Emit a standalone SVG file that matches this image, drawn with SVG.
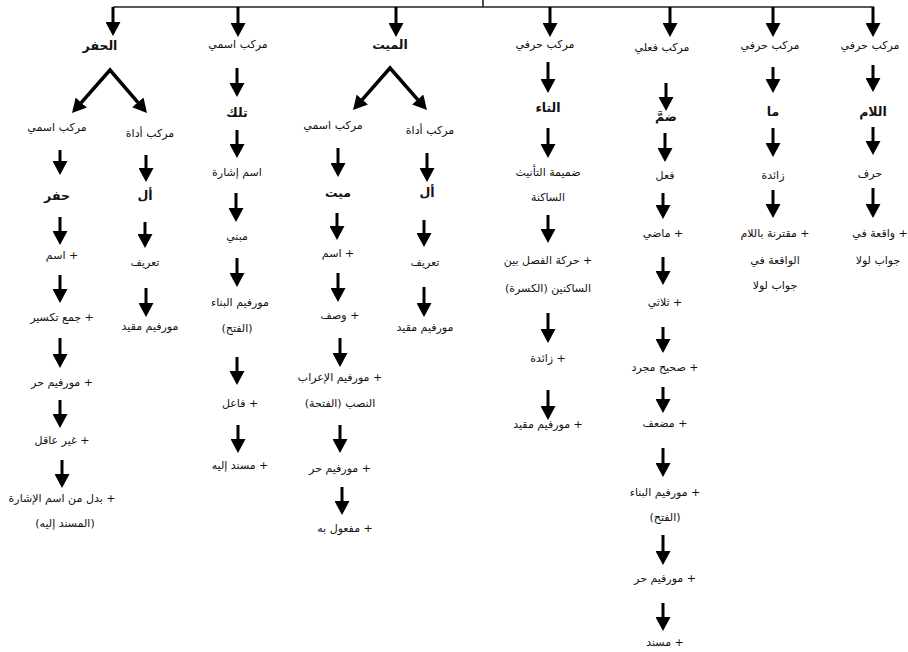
<svg xmlns="http://www.w3.org/2000/svg" width="908" height="652" viewBox="0 0 908 652">
<defs>
<marker id="ah" viewBox="0 0 14 15" refX="3" refY="7.5" markerWidth="14" markerHeight="15" markerUnits="userSpaceOnUse" orient="auto-start-reverse">
<path d="M0,0 L14,7.5 L0,15 z" fill="#000"/>
</marker>
<style>
text{font-family:"DejaVu Sans",sans-serif;font-size:11px;fill:#111;text-anchor:middle;direction:rtl;unicode-bidi:embed}
text.b{font-weight:bold;font-size:12.5px}
.ar{stroke:#000;stroke-width:3;fill:none;marker-end:url(#ah)}
.br{stroke:#000;stroke-width:3.5;fill:none;stroke-linejoin:miter;marker-start:url(#ah);marker-end:url(#ah)}
.tl{stroke:#222;stroke-width:1.6;fill:none}
</style>
</defs>
<rect width="908" height="652" fill="#fff"/>
<g id="connectors">
<path class="tl" d="M113,7 H874 M483,0 V7"/>
<path class="ar" d="M113,7 V25"/>
<path class="ar" d="M238,7 V26"/>
<path class="ar" d="M396,7 V26"/>
<path class="ar" d="M550,7 V26"/>
<path class="ar" d="M670,7 V26"/>
<path class="ar" d="M773,7 V26"/>
<path class="ar" d="M873,7 V26"/>
<path class="br" d="M79.3,104.8 L110,70 L139.8,104.7"/>
<path class="br" d="M360.3,101.8 L390,68 L419.7,101.8"/>
<path class="ar" d="M60,150 V164"/>
<path class="ar" d="M60,217 V234"/>
<path class="ar" d="M60,275 V292"/>
<path class="ar" d="M60,338 V357"/>
<path class="ar" d="M60,400 V417"/>
<path class="ar" d="M62,460 V477"/>
<path class="ar" d="M146,155 V171"/>
<path class="ar" d="M145,222 V237"/>
<path class="ar" d="M146,288 V306"/>
<path class="ar" d="M237,68 V86"/>
<path class="ar" d="M237,130 V147"/>
<path class="ar" d="M236,193 V211"/>
<path class="ar" d="M237,258 V276"/>
<path class="ar" d="M237,357 V374"/>
<path class="ar" d="M238,425 V442"/>
<path class="ar" d="M338,148 V166"/>
<path class="ar" d="M337,213 V229"/>
<path class="ar" d="M338,273 V291"/>
<path class="ar" d="M340,338 V356"/>
<path class="ar" d="M340,425 V442"/>
<path class="ar" d="M342,487 V504"/>
<path class="ar" d="M427,153 V171"/>
<path class="ar" d="M424,220 V236"/>
<path class="ar" d="M424,287 V306"/>
<path class="ar" d="M548,62 V82"/>
<path class="ar" d="M548,128 V147"/>
<path class="ar" d="M548,215 V232"/>
<path class="ar" d="M548,313 V332"/>
<path class="ar" d="M548,390 V409"/>
<path class="ar" d="M666,83 V100"/>
<path class="ar" d="M665,133 V151"/>
<path class="ar" d="M663,193 V208"/>
<path class="ar" d="M663,257 V274"/>
<path class="ar" d="M663,327 V342"/>
<path class="ar" d="M663,387 V402"/>
<path class="ar" d="M663,448 V466"/>
<path class="ar" d="M663,535 V554"/>
<path class="ar" d="M663,603 V620"/>
<path class="ar" d="M773,67 V82"/>
<path class="ar" d="M773,128 V146"/>
<path class="ar" d="M773,190 V207"/>
<path class="ar" d="M873,65 V81"/>
<path class="ar" d="M873,127 V144"/>
<path class="ar" d="M873,188 V207"/>
</g>
<g id="n-alhafr"><text class="b" x="100" y="50">الحفر</text></g>
<g id="n-c1-ism"><text x="57" y="131">مركب اسمي</text></g>
<g id="n-c1-adat"><text x="150" y="137">مركب أداة</text></g>
<g id="n-hafr"><text class="b" x="57" y="200">حفر</text></g>
<g id="n-c1-ism2"><text x="62" y="259">+ اسم</text></g>
<g id="n-c1-jam"><text x="62" y="321">+ جمع تكسير</text></g>
<g id="n-c1-hurr"><text x="62" y="386">+ مورفيم حر</text></g>
<g id="n-c1-ghayr"><text x="62" y="444">+ غير عاقل</text></g>
<g id="n-c1-badal"><text x="62" y="502">+ بدل من اسم الإشارة</text><text x="65" y="527">(المسند إليه)</text></g>
<g id="n-c1-al"><text class="b" x="145" y="200">أل</text></g>
<g id="n-c1-tarif"><text x="145" y="266">تعريف</text></g>
<g id="n-c1-muqayyad"><text x="150" y="330">مورفيم مقيد</text></g>
<g id="n-c2-ism"><text x="238" y="48">مركب اسمي</text></g>
<g id="n-tilka"><text class="b" x="237" y="117">تلك</text></g>
<g id="n-c2-ishara"><text x="237" y="176">اسم إشارة</text></g>
<g id="n-c2-mabni"><text x="237" y="240">مبني</text></g>
<g id="n-c2-bina"><text x="240" y="306">مورفيم البناء</text><text x="237" y="332">(الفتح)</text></g>
<g id="n-c2-fail"><text x="240" y="407">+ فاعل</text></g>
<g id="n-c2-musnad"><text x="240" y="469">+ مسند إليه</text></g>
<g id="n-almayyit"><text class="b" x="390" y="49">الميت</text></g>
<g id="n-c3-ism"><text x="333" y="129">مركب اسمي</text></g>
<g id="n-c3-adat"><text x="430" y="134">مركب أداة</text></g>
<g id="n-mayyit"><text class="b" x="338" y="197">ميت</text></g>
<g id="n-c3-ism2"><text x="338" y="257">+ اسم</text></g>
<g id="n-c3-wasf"><text x="340" y="319">+ وصف</text></g>
<g id="n-c3-irab"><text x="340" y="381">+ مورفيم الإعراب</text><text x="340" y="407">النصب (الفتحة)</text></g>
<g id="n-c3-hurr"><text x="340" y="472">+ مورفيم حر</text></g>
<g id="n-c3-mafool"><text x="345" y="532">+ مفعول به</text></g>
<g id="n-c3-al"><text class="b" x="427" y="197">أل</text></g>
<g id="n-c3-tarif"><text x="425" y="266">تعريف</text></g>
<g id="n-c3-muqayyad"><text x="425" y="331">مورفيم مقيد</text></g>
<g id="n-c4-harfi"><text x="545" y="48">مركب حرفي</text></g>
<g id="n-atta"><text class="b" x="548" y="112">التاء</text></g>
<g id="n-c4-damima"><text x="548" y="176">ضميمة التأنيث</text><text x="548" y="201">الساكنة</text></g>
<g id="n-c4-haraka"><text x="548" y="264">+ حركة الفصل بين</text><text x="548" y="292">الساكنين (الكسرة)</text></g>
<g id="n-c4-zaida"><text x="548" y="362">+ زائدة</text></g>
<g id="n-c4-muqayyad"><text x="548" y="428">+ مورفيم مقيد</text></g>
<g id="n-c5-fili"><text x="662" y="51">مركب فعلي</text></g>
<g id="n-damma"><text class="b" x="666" y="121">ضمَّ</text></g>
<g id="n-c5-fil"><text x="665" y="179">فعل</text></g>
<g id="n-c5-madi"><text x="663" y="237">+ ماضي</text></g>
<g id="n-c5-thulathi"><text x="665" y="306">+ ثلاثي</text></g>
<g id="n-c5-sahih"><text x="665" y="371">+ صحيح مجرد</text></g>
<g id="n-c5-mudaaf"><text x="665" y="427">+ مضعف</text></g>
<g id="n-c5-bina"><text x="665" y="496">+ مورفيم البناء</text><text x="665" y="521">(الفتح)</text></g>
<g id="n-c5-hurr"><text x="665" y="582">+ مورفيم حر</text></g>
<g id="n-c5-musnad"><text x="665" y="646">+ مسند</text></g>
<g id="n-c6-harfi"><text x="770" y="49">مركب حرفي</text></g>
<g id="n-ma"><text class="b" x="773" y="116">ما</text></g>
<g id="n-c6-zaida"><text x="773" y="179">زائدة</text></g>
<g id="n-c6-muqtarina"><text x="775" y="237">+ مقترنة باللام</text><text x="775" y="264">الواقعة في</text><text x="775" y="289">جواب لولا</text></g>
<g id="n-c7-harfi"><text x="870" y="49">مركب حرفي</text></g>
<g id="n-allam"><text class="b" x="873" y="116">اللام</text></g>
<g id="n-c7-harf"><text x="870" y="177">حرف</text></g>
<g id="n-c7-waqia"><text x="880" y="237">+ واقعة في</text><text x="878" y="264">جواب لولا</text></g>
</svg>
